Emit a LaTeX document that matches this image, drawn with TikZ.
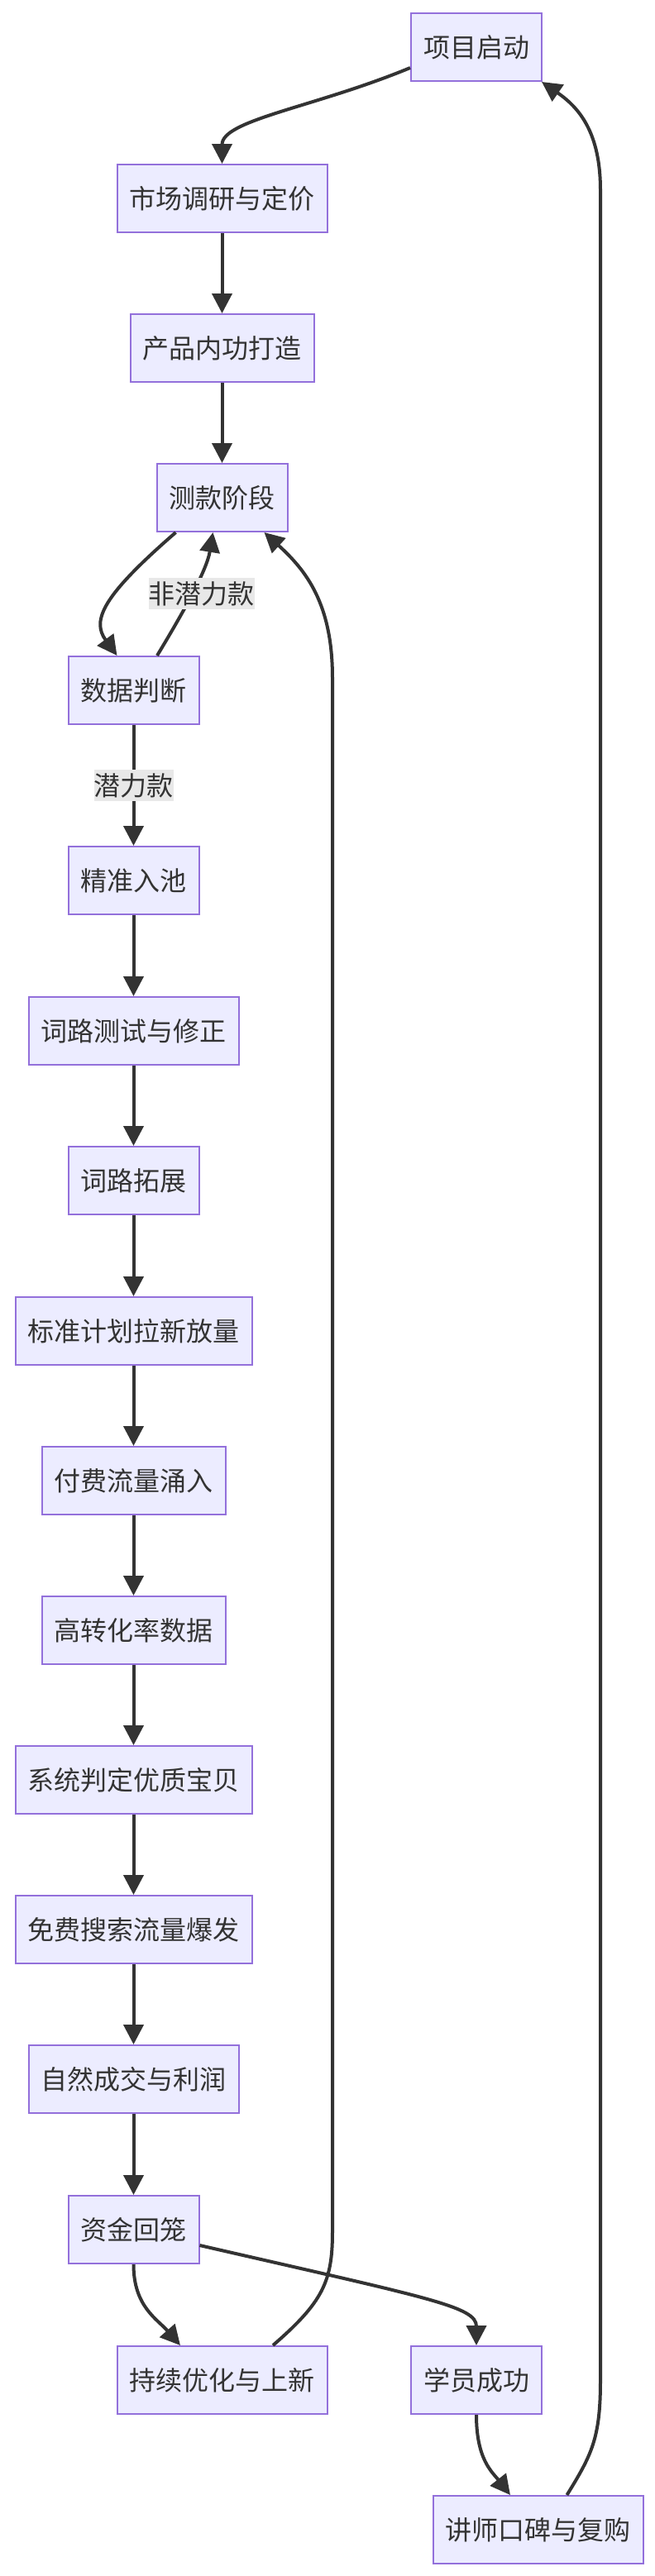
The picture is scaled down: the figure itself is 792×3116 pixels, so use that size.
\documentclass[tikz,border=0pt]{standalone}
\usepackage{fontspec}
\setmainfont{Noto Sans CJK SC}
\usetikzlibrary{arrows.meta,calc}
\definecolor{nodefill}{HTML}{ECECFF}
\definecolor{nodeline}{HTML}{9370DB}
\definecolor{ink}{HTML}{333333}
\definecolor{lblbg}{HTML}{E8E8E8}
\begin{document}
\begin{tikzpicture}[x=0.5pt,y=-0.5pt,
  box/.style={draw=nodeline,line width=1pt,fill=nodefill,text=ink,
    font=\fontsize{16pt}{19pt}\selectfont,inner xsep=7.5pt,inner ysep=0pt,
    minimum height=41pt},
  lbl/.style={fill=lblbg,text=ink,font=\fontsize{16pt}{19pt}\selectfont,
    inner sep=0pt,minimum height=19pt},
  edge/.style={draw=ink,line width=2pt,-{Triangle[length=12pt,width=12pt]}}]
\path[use as bounding box,fill=white] (0,0) rectangle (792,3116);

\node[box] (n1) at (576,57) {项目启动};
\node[box] (n2) at (268.5,240) {市场调研与定价};
\node[box] (n3) at (268.5,421) {产品内功打造};
\node[box] (n4) at (268.5,602) {测款阶段};
\node[box] (n5) at (161.5,835) {数据判断};
\node[box] (n6) at (161.5,1065) {精准入池};
\node[box] (n7) at (161.5,1247) {词路测试与修正};
\node[box] (n8) at (161.5,1428) {词路拓展};
\node[box] (n9) at (161.5,1610) {标准计划拉新放量};
\node[box] (n10) at (161.5,1791) {付费流量涌入};
\node[box] (n11) at (161.5,1972) {高转化率数据};
\node[box] (n12) at (161.5,2153) {系统判定优质宝贝};
\node[box] (n13) at (161.5,2334) {免费搜索流量爆发};
\node[box] (n14) at (161.5,2515) {自然成交与利润};
\node[box] (n15) at (161.5,2697) {资金回笼};
\node[box] (n16) at (268.5,2879) {持续优化与上新};
\node[box] (n17) at (576,2879) {学员成功};
\node[box] (n18) at (650.5,3060) {讲师口碑与复购};

\draw[edge] ($(n1.west)+(0,25)$) .. controls (380,130) and (268.5,145) .. (n2.north);
\draw[edge] (n2) -- (n3);
\draw[edge] (n3) -- (n4);
\draw[edge] ($(n4.south)+(-56,0)$) .. controls (125,720) and (110,750) .. ($(n5.north)+(-20,0)$);
\draw[edge] ($(n5.north)+(28.5,0)$) .. controls (222,740) and (250,690) .. ($(n4.south)+(-11,0)$);
\node[lbl] (l1) at (243.5,718) {非潜力款};
\draw[edge] (n5) -- (n6) node[lbl,midway] (l2) {潜力款};
\draw[edge] (n6) -- (n7);
\draw[edge] (n7) -- (n8);
\draw[edge] (n8) -- (n9);
\draw[edge] (n9) -- (n10);
\draw[edge] (n10) -- (n11);
\draw[edge] (n11) -- (n12);
\draw[edge] (n12) -- (n13);
\draw[edge] (n13) -- (n14);
\draw[edge] (n14) -- (n15);
\draw[edge] (n15.south) .. controls (161.5,2790) and (190,2805) .. ($(n16.north)+(-50.5,0)$);
\draw[edge] ($(n15.east)+(0,19)$) .. controls (520,2780) and (576,2790) .. (n17.north);
\draw[edge] ($(n16.north)+(61.5,0)$) .. controls (390,2785) and (402,2760) .. (402,2700)
  -- (402,820) .. controls (402,730) and (370,690) .. ($(n4.south)+(51,0)$);
\draw[edge] (n17.south) .. controls (576,2975) and (595,2990) .. ($(n18.north)+(-33.5,0)$);
\draw[edge] ($(n18.north)+(35,0)$) .. controls (715,2970) and (726,2950) .. (726,2880)
  -- (726,230) .. controls (726,160) and (700,130) .. ($(n1.south east)+(-1,0)$);
\end{tikzpicture}
\end{document}
